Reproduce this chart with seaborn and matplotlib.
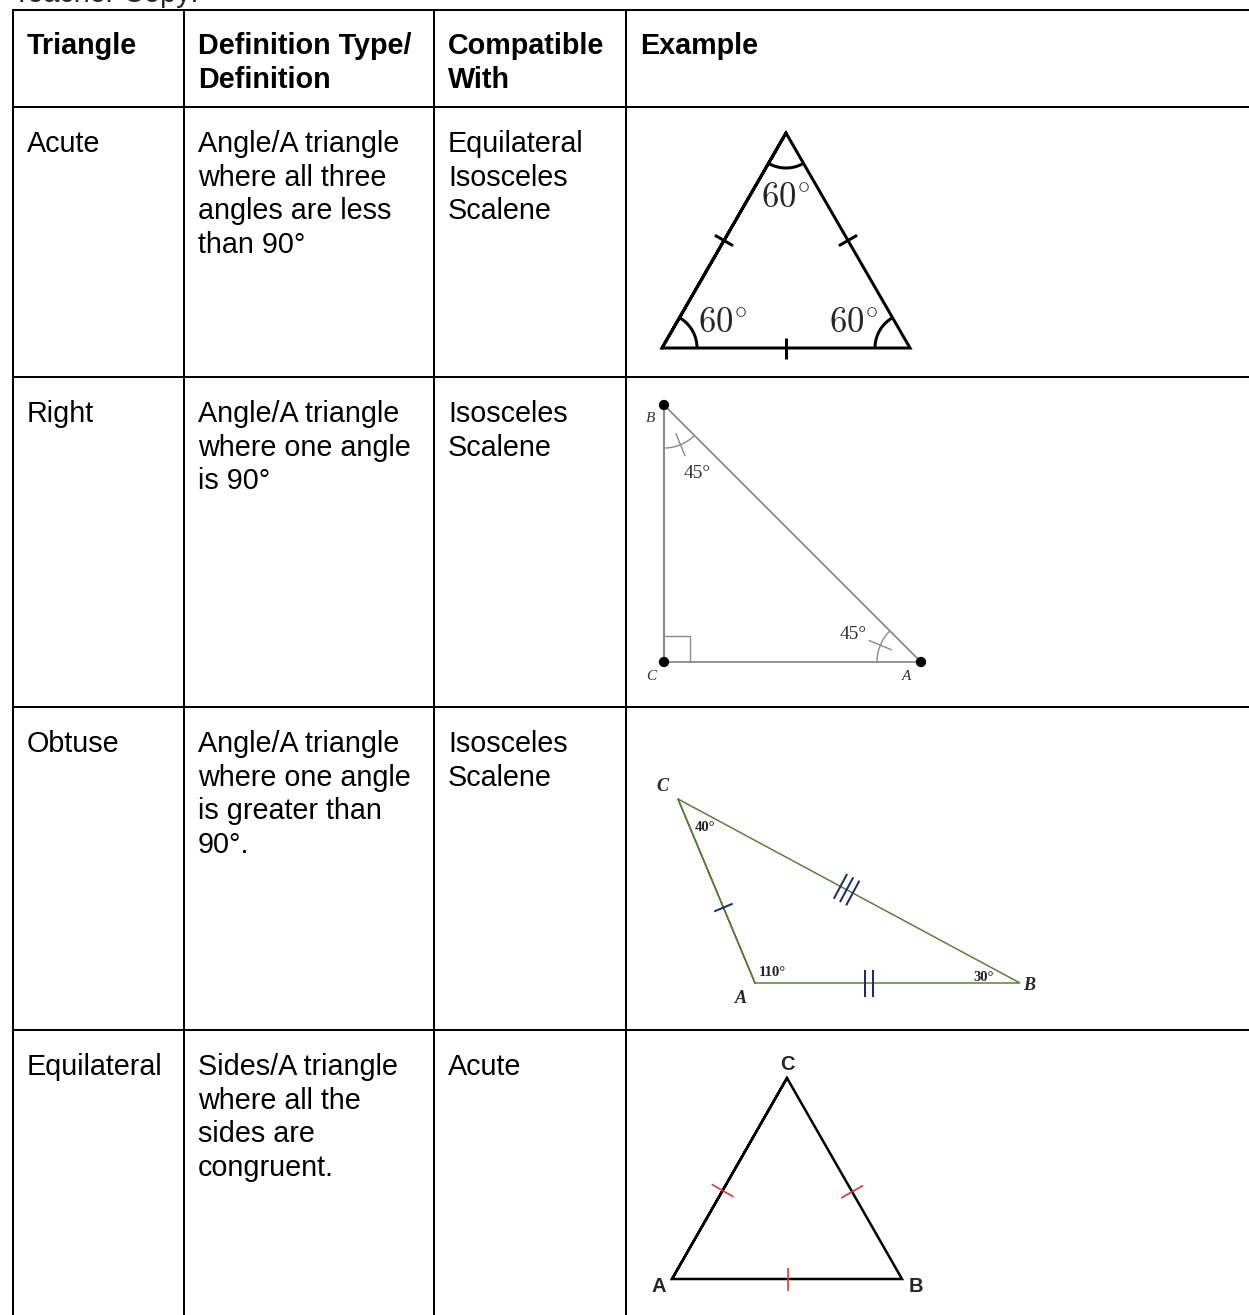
import numpy as np
import pandas as pd
import matplotlib
matplotlib.use("Agg")
import matplotlib.pyplot as plt
import seaborn as sns

# -----------------------------
# Setup
# -----------------------------
sns.set_theme(style="white")
plt.rcParams["font.family"] = ["Liberation Sans", "DejaVu Sans"]
plt.rcParams["mathtext.fontset"] = "cm"

W, H = 1249, 1315

# -----------------------------
# Table content
# -----------------------------
title_text = "Teacher Copy:"
headers = ["Triangle", "Definition Type/\nDefinition", "Compatible\nWith", "Example"]
names = ["Acute", "Right", "Obtuse", "Equilateral"]
definitions = [
    "Angle/A triangle\nwhere all three\nangles are less\nthan 90°",
    "Angle/A triangle\nwhere one angle\nis 90°",
    "Angle/A triangle\nwhere one angle\nis greater than\n90°.",
    "Sides/A triangle\nwhere all the\nsides are\ncongruent.",
]
compatible = ["Equilateral\nIsosceles\nScalene", "Isosceles\nScalene",
              "Isosceles\nScalene", "Acute"]

col_edges = [13, 184, 434, 626]
row_edges = [10, 107, 377, 707, 1030]

# example drawings (vertices)
acute_x, acute_y = [786, 662, 910], [133, 348, 348]
acute_angles = ["60", "60", "60"]
right_x, right_y = [664, 664, 921], [405, 662, 662]          # B, C, A
right_names = ["B", "C", "A"]
right_angles = ["45", "45"]
obtuse_x, obtuse_y = [678, 755, 1020], [799, 983, 983]       # C, A, B
obtuse_names = ["C", "A", "B"]
obtuse_angles = ["40°", "110°", "30°"]
equi_x, equi_y = [787, 672, 902], [1078, 1279, 1279]         # C, A, B
equi_names = ["C", "A", "B"]

FS = 20.7
PITCH = 33.6
PX = 72 / 100  # pixel -> points


def outline(ax, xs, ys, color, lw):
    df = pd.DataFrame({"x": xs + xs[:2], "y": ys + ys[:2]})
    sns.lineplot(data=df, x="x", y="y", sort=False, estimator=None,
                 color=color, lw=lw, ax=ax, solid_joinstyle="miter")


def arc(ax, v, a, b, r, color, lw):
    a1 = np.arctan2(a[1] - v[1], a[0] - v[0])
    a2 = np.arctan2(b[1] - v[1], b[0] - v[0])
    d = (a2 - a1 + np.pi) % (2 * np.pi) - np.pi
    t = a1 + np.linspace(0, d, 40)
    ax.plot(v[0] + r * np.cos(t), v[1] + r * np.sin(t), color=color, lw=lw,
            solid_capstyle="butt")
    return a1 + d / 2


def ticks(ax, p, q, t, length, color, lw, n=1, gap=0.0):
    p, q = np.array(p, float), np.array(q, float)
    d = (q - p) / np.linalg.norm(q - p)
    nrm = np.array([-d[1], d[0]])
    c = p + t * (q - p)
    for k in range(n):
        cc = c + (k - (n - 1) / 2) * gap * d
        a, b = cc - nrm * length / 2, cc + nrm * length / 2
        ax.plot([a[0], b[0]], [a[1], b[1]], color=color, lw=lw,
                solid_capstyle="butt")


fig = plt.figure(figsize=(W / 100, H / 100), dpi=100)
ax = fig.add_axes([0, 0, 1, 1])

# -----------------------------
# Grid
# -----------------------------
for x in col_edges:
    ax.vlines(x, row_edges[0] - 1, H, color="black", lw=2 * PX)
for y in row_edges:
    ax.hlines(y, col_edges[0] - 1, W, color="black", lw=2 * PX)

ax.text(col_edges[0], 2, title_text, fontsize=FS, va="baseline", ha="left")


def cell(x, y, txt, bold=False):
    for i, line in enumerate(txt.split("\n")):
        ax.text(x + 14, y + i * PITCH, line, fontsize=FS, va="baseline",
                ha="left", fontweight="bold" if bold else "normal", color="black")


for j, h in enumerate(headers):
    cell(col_edges[j], row_edges[0] + 44, h, bold=True)
for i in range(4):
    base = row_edges[i + 1] + 45
    cell(col_edges[0], base, names[i])
    cell(col_edges[1], base, definitions[i])
    cell(col_edges[2], base, compatible[i])

# -----------------------------
# Acute triangle
# -----------------------------
P = list(zip(acute_x, acute_y))
lw1 = 3 * PX
outline(ax, acute_x, acute_y, "black", lw1)
for k in range(3):
    arc(ax, P[k], P[(k + 1) % 3], P[(k + 2) % 3], 35, "black", lw1)
ticks(ax, P[1], P[0], 0.5, 21, "black", lw1)
ticks(ax, P[2], P[0], 0.5, 21, "black", lw1)
ticks(ax, P[1], P[2], 0.5, 21, "black", lw1)
for (x, y), lab in zip([(786, 197), (723, 322), (854, 322)], acute_angles):
    ax.text(x, y, rf"${lab}^{{\!\circ}}$", fontsize=25, ha="center", va="center")

# -----------------------------
# Right triangle
# -----------------------------
B, C, A = list(zip(right_x, right_y))
gray = "#8a8a8a"
outline(ax, right_x, right_y, gray, 1.3)
ax.plot([C[0], C[0] + 26, C[0] + 26], [C[1] - 26, C[1] - 26, C[1]],
        color=gray, lw=1.0)
for v, a, b, r in [(B, C, A, 43), (A, C, B, 44)]:
    mid = arc(ax, v, a, b, r, gray, 1.0)
    ax.plot([v[0] + (r - 12) * np.cos(mid), v[0] + (r + 12) * np.cos(mid)],
            [v[1] + (r - 12) * np.sin(mid), v[1] + (r + 12) * np.sin(mid)],
            color=gray, lw=1.0)
sns.scatterplot(x=right_x, y=right_y, color="black", s=55, edgecolor="none",
                ax=ax, zorder=5)
for (x, y), lab in zip([(651, 418), (651, 676), (907, 676)], right_names):
    ax.text(x, y, lab, fontsize=11, ha="center", va="center", style="italic",
            family="Liberation Serif", color="#333333")
for (x, y), lab in zip([(697, 473), (853, 634)], right_angles):
    ax.text(x, y, rf"{lab}°", fontsize=14, ha="center", va="center",
            family="Liberation Serif", color="#333333")

# -----------------------------
# Obtuse triangle
# -----------------------------
Co, Ao, Bo = list(zip(obtuse_x, obtuse_y))
green = "#5a7d3c"
navy = "#1f2d6b"
outline(ax, obtuse_x, obtuse_y, green, 1.5 * PX)
ticks(ax, Co, Ao, 0.59, 20, navy, 2 * PX)
ticks(ax, Co, Bo, 0.493, 28, navy, 2 * PX, n=3, gap=7)
ticks(ax, Ao, Bo, 0.43, 27, navy, 2 * PX, n=2, gap=8.3)
for (x, y), lab in zip([(662, 786), (741, 998), (1029, 985)], obtuse_names):
    ax.text(x, y, lab, fontsize=13, ha="center", va="center", style="italic",
            fontweight="bold", family="Liberation Serif")
for (x, y), lab in zip([(705, 827), (772, 972), (984, 977)], obtuse_angles):
    ax.text(x, y, lab, fontsize=10.5, ha="center", va="center",
            fontweight="bold", family="Liberation Serif", color="#222222")

# -----------------------------
# Equilateral triangle
# -----------------------------
Ce, Ae, Be = list(zip(equi_x, equi_y))
red = "#ee2a2a"
outline(ax, equi_x, equi_y, "black", 2.5 * PX)
ticks(ax, Ae, Ce, 0.44, 25, red, 1.6 * PX)
ticks(ax, Be, Ce, 0.434, 25, red, 1.6 * PX)
ticks(ax, Ae, Be, 0.504, 23, red, 1.6 * PX)
for (x, y), lab in zip([(787, 1064), (659, 1287), (916, 1287)], equi_names):
    ax.text(x, y, lab, fontsize=14.5, ha="center", va="center",
            fontweight="bold")

ax.set_xlim(0, W)
ax.set_ylim(H, 0)
ax.set_xlabel("")
ax.set_ylabel("")
ax.axis("off")

fig.savefig("out.png", dpi=100, facecolor="white")
